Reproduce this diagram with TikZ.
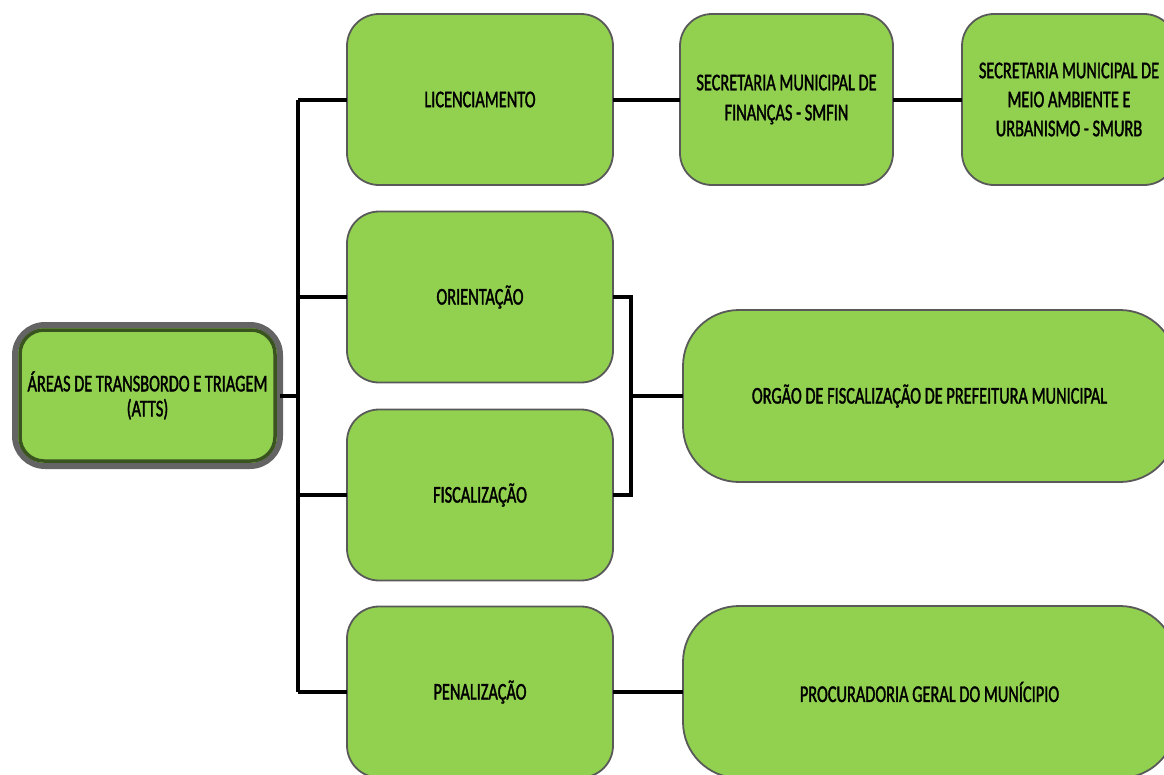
\documentclass[tikz,border=0pt]{standalone}
\usepackage{fontspec}
\setmainfont{Carlito}[FakeStretch=0.68, FakeBold=1.4]
\usetikzlibrary{calc}
\definecolor{boxgreen}{HTML}{92D050}
\definecolor{boxedge}{HTML}{595959}
\definecolor{rootedge}{HTML}{646464}
\definecolor{rootinner}{HTML}{3A5420}
\begin{document}
\begin{tikzpicture}[x=1pt,y=-1pt,
  box/.style={draw=boxedge, line width=1.8pt, fill=boxgreen, rounded corners=32pt,
    minimum width=266pt, minimum height=171pt, inner sep=0pt, outer sep=0pt,
    align=center, font=\fontsize{24}{29}\selectfont},
  widebox/.style={box, rounded corners=56pt, minimum width=493pt, minimum height=172pt},
  rootbox/.style={box, draw=rootedge, line width=6pt, rounded corners=30pt,
    minimum width=265pt, minimum height=141pt, font=\fontsize{24}{25}\selectfont},
  link/.style={draw=black, line width=4pt}]
\useasboundingbox (0,0) rectangle (1164,774);
\clip (0,0) rectangle (1164,774);

% root of the tree
\node[rootbox] (root) at (147.5,395.5) {ÁREAS DE TRANSBORDO E TRIAGEM\\(ATTS)};
\draw[rootinner, line width=3.5pt, rounded corners=24pt]
  ($(root.north west)+(5,5)$) rectangle ($(root.south east)+(-5,-5)$);

% activities
\node[box] (lic)    at (480,99.5) {LICENCIAMENTO};
\node[box] (orient) at (480,297)  {ORIENTAÇÃO};
\node[box] (fisc)   at (480,495)  {FISCALIZAÇÃO};
\node[box] (pen)    at (480,692)  {PENALIZAÇÃO};

% responsible bodies
\node[box, minimum width=213pt] (smfin) at (786.5,99.5)
  {SECRETARIA MUNICIPAL DE\\[1pt]FINANÇAS - SMFIN};
\node[box, minimum width=214pt] (smurb) at (1069,99.5)
  {SECRETARIA MUNICIPAL DE\\MEIO AMBIENTE E\\URBANISMO - SMURB};
\node[widebox] (orgao) at (929.5,396)
  {ORGÃO DE FISCALIZAÇÃO DE PREFEITURA MUNICIPAL};
\node[widebox] (proc) at (929.5,692)
  {PROCURADORIA GERAL DO MUNÍCIPIO};

% trunk and branches
\coordinate (t) at (298,0);
\coordinate (b) at (631,0);
\draw[link] (root.east) -- (root.east -| t);
\draw[link] (lic.west -| t) -- (pen.west -| t);
\draw[link] (lic.west) -- (lic.west -| t);
\draw[link] (orient.west) -- (orient.west -| t);
\draw[link] (fisc.west) -- (fisc.west -| t);
\draw[link] (pen.west) -- (pen.west -| t);

% links to the responsible bodies
\draw[link] (lic.east) -- (smfin.west);
\draw[link] (smfin.east) -- (smurb.west);
\draw[link] (orient.east) -| (b |- fisc.east) -- (fisc.east);
\draw[link] (b |- orgao.west) -- (orgao.west);
\draw[link] (pen.east) -- (proc.west);
\end{tikzpicture}
\end{document}
